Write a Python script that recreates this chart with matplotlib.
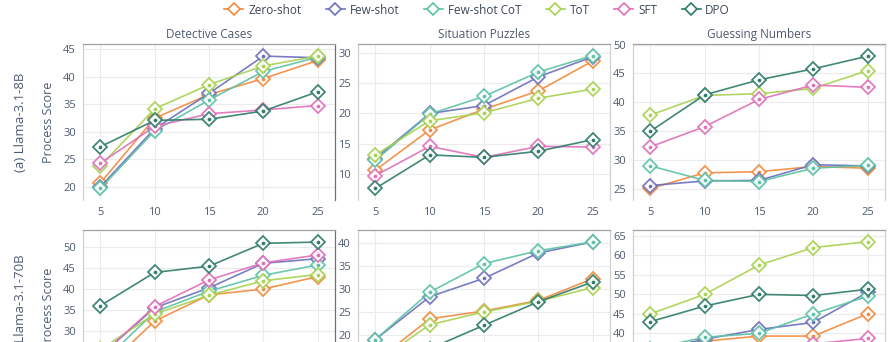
import matplotlib
matplotlib.use("Agg")
import matplotlib.pyplot as plt
from matplotlib.lines import Line2D

# ----------------------------------
# DATA
# ----------------------------------

STEPS = [5, 10, 15, 20, 25]
METHODS = ["Zero-shot", "Few-shot", "Few-shot CoT", "ToT", "SFT", "DPO"]
COLORS = ["#f08a3c", "#6c6fbd", "#5cc1a6", "#a8d14f", "#de6fb8", "#2e7b68"]
TASKS = ["Detective Cases", "Situation Puzzles", "Guessing Numbers"]
MODELS = ["(a) Llama-3.1-8B", "(b) Llama-3.1-70B"]

# Llama-3.1-8B, one list per method
det_8b = [
    [20.7, 32.5, 36.8, 39.7, 43.0],
    [20.0, 30.6, 37.0, 43.8, 43.5],
    [19.7, 30.2, 35.8, 41.0, 43.6],
    [23.8, 34.2, 38.6, 42.0, 43.8],
    [24.3, 31.0, 33.3, 34.0, 34.8],
    [27.3, 32.1, 32.3, 33.8, 37.3],
]
sit_8b = [
    [10.7, 17.3, 20.7, 23.7, 28.6],
    [12.6, 20.0, 21.3, 26.0, 29.3],
    [12.3, 19.9, 22.8, 26.8, 29.5],
    [13.2, 18.8, 20.1, 22.5, 24.0],
    [9.8, 14.6, 12.8, 14.6, 14.5],
    [7.7, 13.2, 12.8, 13.8, 15.7],
]
gue_8b = [
    [25.1, 27.8, 28.0, 28.9, 28.6],
    [25.6, 26.4, 26.5, 29.2, 29.0],
    [29.0, 26.5, 26.3, 28.6, 29.1],
    [37.8, 41.2, 41.5, 42.4, 45.5],
    [32.3, 35.8, 40.5, 43.0, 42.6],
    [35.0, 41.3, 43.9, 45.8, 48.0],
]

# Llama-3.1-70B
det_70b = [
    [20.0, 32.3, 38.6, 40.0, 43.0],
    [24.0, 35.5, 40.3, 46.2, 47.3],
    [22.0, 34.5, 39.5, 43.3, 45.8],
    [25.5, 34.0, 38.5, 42.0, 43.5],
    [24.0, 35.8, 42.2, 46.3, 48.2],
    [36.0, 44.0, 45.5, 51.0, 51.3],
]
sit_70b = [
    [14.2, 23.5, 25.2, 27.5, 32.2],
    [19.0, 28.3, 32.3, 37.8, 40.2],
    [19.0, 29.3, 35.5, 38.3, 40.2],
    [14.0, 22.2, 25.0, 27.3, 30.3],
    [11.0, 13.5, 14.5, 15.5, 16.5],
    [13.0, 17.0, 22.1, 27.2, 31.5],
]
gue_70b = [
    [35.0, 38.0, 39.3, 39.3, 45.0],
    [35.5, 38.5, 41.0, 42.8, 50.5],
    [36.0, 39.0, 40.0, 45.0, 49.5],
    [45.0, 50.0, 57.5, 62.0, 63.5],
    [30.0, 33.0, 35.0, 37.3, 38.7],
    [43.0, 47.0, 50.0, 49.7, 51.3],
]

PANELS = [[det_8b, sit_8b, gue_8b], [det_70b, sit_70b, gue_70b]]
YLIMS = [
    [(17.6, 46.0), (5.8, 31.4), (23.1, 50.1)],
    [(16.7, 54.2), (8.9, 42.8), (26.5, 66.5)],
]
YTICKS = [
    [[20, 25, 30, 35, 40, 45], [10, 15, 20, 25, 30], [25, 30, 35, 40, 45, 50]],
    [[30, 35, 40, 45, 50], [20, 25, 30, 35, 40], [40, 45, 50, 55, 60, 65]],
]

# ----------------------------------
# LAYOUT (pixels, figure is 892 x 342)
# ----------------------------------

W, H = 892, 342
LEFTS = [83, 358, 633]
PW = 252
TOPS = [44, 230]
PH = 156

TICK_COLOR = "#4e5b73"
plt.rcParams["font.family"] = ["Open Sans", "DejaVu Sans"]

fig = plt.figure(figsize=(W / 100, H / 100), dpi=100)
fig.patch.set_facecolor("white")

for r in range(2):
    for c in range(3):
        ax = fig.add_axes([LEFTS[c] / W, (H - TOPS[r] - PH) / H, PW / W, PH / H])
        ax.set_xlim(3.4, 26.6)
        ax.set_ylim(*YLIMS[r][c])
        ax.set_xticks(STEPS)
        ax.set_yticks(YTICKS[r][c])
        ax.tick_params(length=0, labelsize=8, labelcolor=TICK_COLOR, pad=5)
        # bottom row is cut by the figure edge, its x labels never show
        ax.tick_params(axis="x", labelbottom=(r == 0))
        ax.grid(color="#ebebeb", linewidth=0.8)
        ax.set_axisbelow(True)

        ax.spines["bottom"].set_visible(False)
        ax.spines["top"].set_color("#a0a0a0")
        ax.spines["left"].set_color("#d0d0d0")
        ax.spines["right"].set_color("#707070" if c == 0 else "#d0d0d0")
        for s in ax.spines.values():
            s.set_linewidth(0.9)

        for vals, col in zip(PANELS[r][c], COLORS):
            ax.plot(STEPS, vals, color=col, linewidth=1.2, alpha=0.9,
                    marker="D", markersize=6.8, markerfacecolor="white",
                    markeredgecolor=col, markeredgewidth=1.3, clip_on=False)
            ax.plot(STEPS, vals, linestyle="none", marker="o",
                    markersize=1.6, color=col, clip_on=False)

        if r == 0:
            ax.set_title(TASKS[c], fontsize=8.5, color="#4e5b73", pad=4)
        if c == 0:
            ax.set_ylabel("Process Score", fontsize=9, color=TICK_COLOR)
            ax.yaxis.set_label_coords(-0.11, 0.5)
            cy = (H - TOPS[r] - PH / 2) / H
            fig.text(21 / W, cy, MODELS[r], rotation=90, fontsize=9.5,
                     color=TICK_COLOR, ha="center", va="center")

# legend across the top
handles = [
    Line2D([0], [0], color=col, linewidth=1.2, marker="D", markersize=6,
           markerfacecolor="white", markeredgecolor=col, markeredgewidth=1.2)
    for col in COLORS
]
leg = fig.legend(handles, METHODS, loc="center", bbox_to_anchor=(0.535, 1 - 10 / H),
                 ncol=6, frameon=False, fontsize=8.5, handlelength=1.6,
                 handletextpad=0.4, columnspacing=2.1)
for t in leg.get_texts():
    t.set_color("#3c4658")

fig.savefig("out.png", dpi=100)
